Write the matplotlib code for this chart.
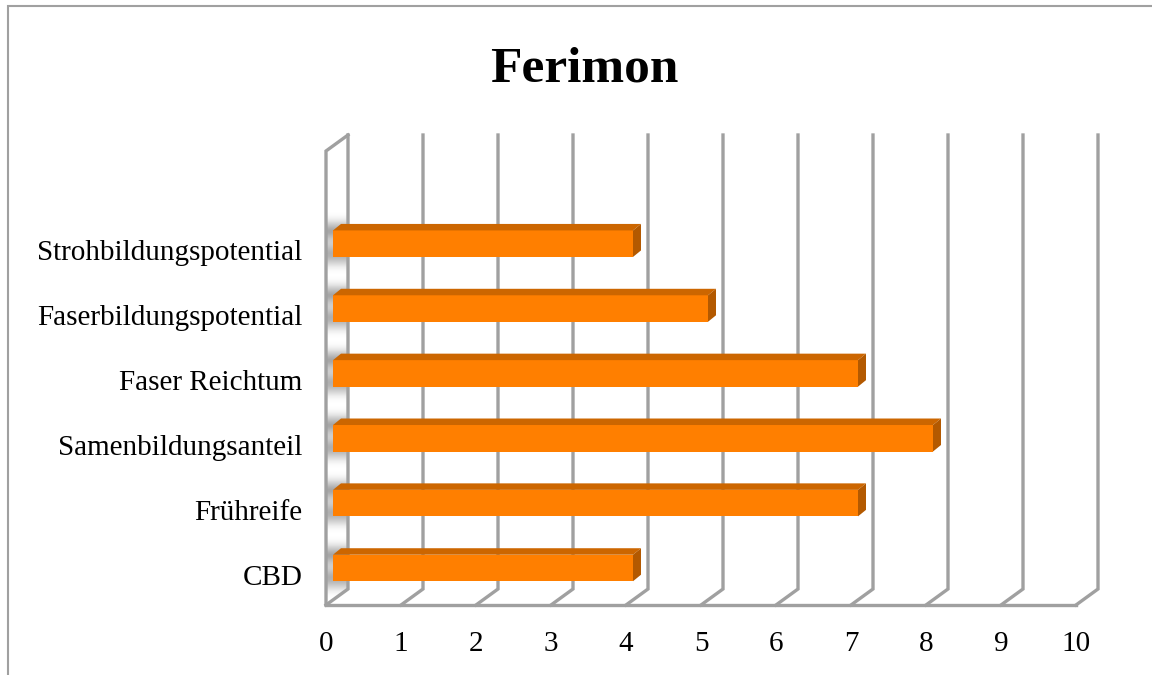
import numpy as np
import matplotlib
matplotlib.use('Agg')
import matplotlib.pyplot as plt
from matplotlib.patches import Polygon

categories = ['CBD', 'Frühreife', 'Samenbildungsanteil', 'Faser Reichtum',
              'Faserbildungspotential', 'Strohbildungspotential']
values = [4, 7, 8, 7, 5, 4]
x_ticks = list(range(0, 11))

W, H = 1152, 675
GRID = '#a0a0a0'
FRONT = '#ff7f00'
TOP = '#cc6600'
SIDE = '#b35900'
FONT = 'Liberation Serif'

fig = plt.figure(figsize=(W / 100, H / 100), dpi=100)

# frame of the picture, in pixels
bg = fig.add_axes([0, 0, 1, 1])
bg.set_xlim(0, W)
bg.set_ylim(H, 0)
bg.axis('off')
bg.plot([7.8, 7.8, W], [H, 6, 6], color='#a0a0a0', lw=1.5, solid_joinstyle='miter',
        solid_capstyle='butt')

# plot floor spans x 326-1076, y 605-151 (one empty slot at the top)
ax = fig.add_axes([326 / W, 1 - 605 / H, 750 / W, 454 / H])
ax.set_xlim(0, 10)
ax.set_ylim(-0.5, 6.5)
ax.patch.set_visible(False)
for s in ax.spines.values():
    s.set_visible(False)

px_x = 10 / 750
px_y = 7 / 454
dx = 22 * px_x
dy = 16 * px_y
wall_kw = dict(color=GRID, lw=2.4, clip_on=False, solid_joinstyle='miter', zorder=2)

# floor and walls
ax.plot([0, 10], [-0.5, -0.5], **wall_kw)
for t in x_ticks:
    ax.plot([t, t + dx, t + dx], [-0.5, -0.5 + dy, 6.5 + dy], **wall_kw)
ax.plot([0, 0, dx], [-0.5, 6.5, 6.5 + dy], **wall_kw)

# soft shadow of each bar on the left wall
wall = Polygon([(0, -0.5), (dx, -0.5 + dy), (dx, 6.5 + dy), (0, 6.5)],
               transform=ax.transData, fc='none', ec='none')
ax.add_patch(wall)
ys = np.arange(len(categories))
bar_h = 26.5 * px_y
bar_dx = 7 * px_x
bar_dy = 4.6 * px_y
depth_x = 8 * px_x
depth_y = 6.5 * px_y
fade = np.array([0, .1, .3, .5, .6, .5, .35, .35, .5, .7, .5, .25, .06, 0])[:, None, None]
fade = np.concatenate([np.full(fade.shape, 0.45)] * 3 + [fade], axis=2)
for y in ys:
    yc = y + bar_dy
    im = ax.imshow(fade, extent=[0, dx, yc - 0.46, yc + 0.51], origin='lower',
                   aspect='auto', interpolation='bicubic', zorder=1)
    im.set_clip_path(wall)
ax.set_xlim(0, 10)
ax.set_ylim(-0.5, 6.5)

# bars with top and end faces
ax.barh(ys + bar_dy, values, height=bar_h, left=bar_dx, color=FRONT, zorder=3)
for y, v in zip(ys, values):
    x0 = bar_dx
    x1 = bar_dx + v
    yb = y + bar_dy - bar_h / 2
    yt = y + bar_dy + bar_h / 2
    ax.add_patch(Polygon([(x0, yt), (x1, yt), (x1 + depth_x, yt + depth_y), (x0 + depth_x, yt + depth_y)],
                         fc=TOP, ec='none', zorder=3))
    ax.add_patch(Polygon([(x1, yb), (x1 + depth_x, yb + depth_y), (x1 + depth_x, yt + depth_y), (x1, yt)],
                         fc=SIDE, ec='none', zorder=3))

ax.set_xticks(x_ticks)
# labels sit a little below the slot centres
ax.set_yticks(ys - 2 * px_y)
ax.set_yticklabels(categories)
ax.tick_params(length=0, labelsize=21)
ax.tick_params(axis='x', pad=19)
ax.tick_params(axis='y', pad=17)
for lab in ax.get_xticklabels() + ax.get_yticklabels():
    lab.set_fontfamily(FONT)
    lab.set_color('black')

bg.text(584, 69, 'Ferimon', fontsize=37, fontweight='bold', family=FONT,
        ha='center', va='center', color='black')

fig.savefig('out.png', dpi=100)
plt.close(fig)
